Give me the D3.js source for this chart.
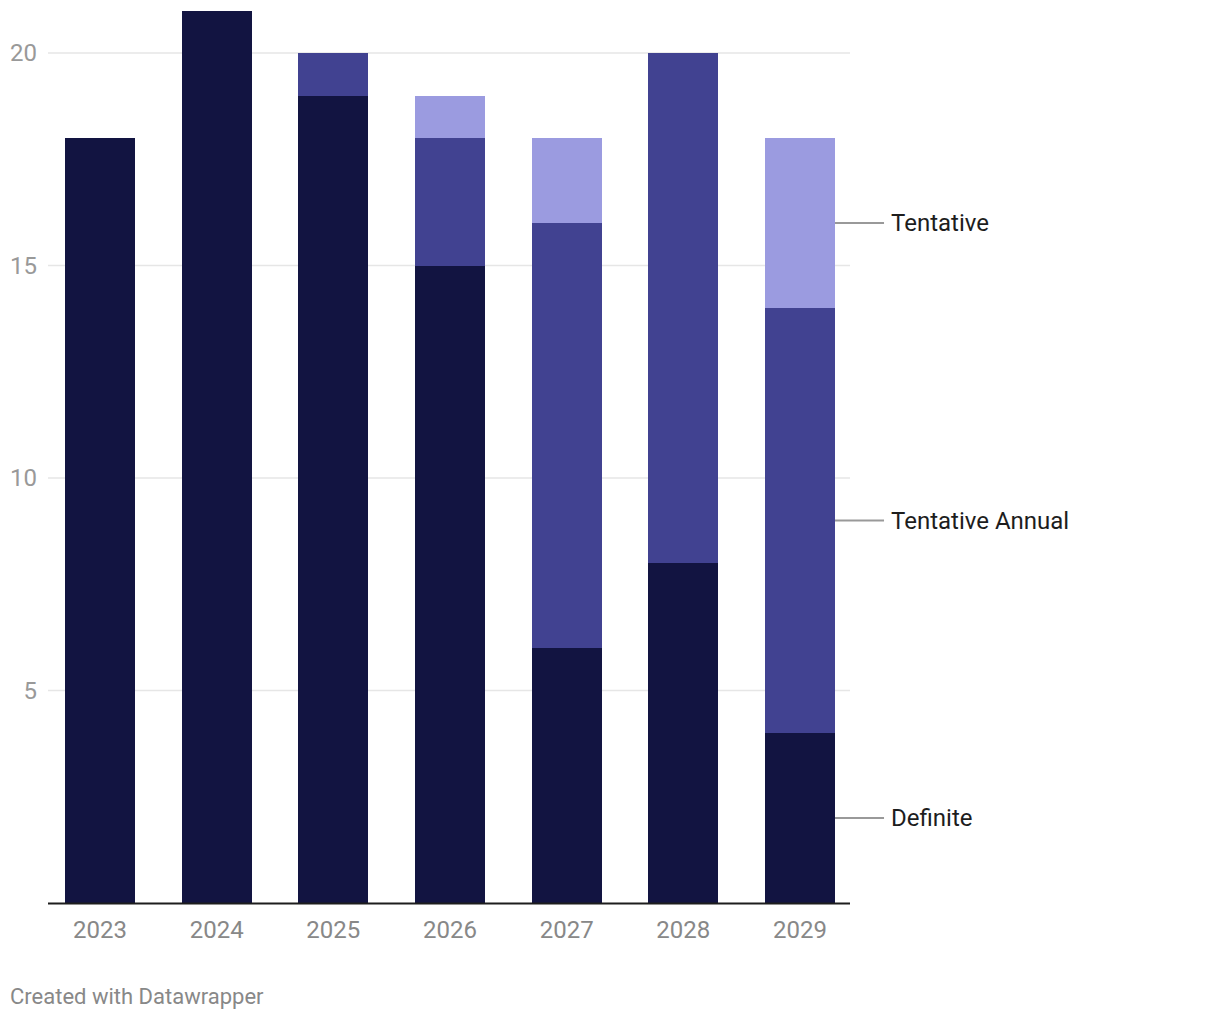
<!DOCTYPE html>
<html><head><meta charset="utf-8">
<script src="https://cdn.jsdelivr.net/npm/d3@7"></script>
<style>body{margin:0;background:#fff;font-family:Roboto,sans-serif}</style>
</head><body><svg id="c" width="1220" height="1020"></svg>
<script>
const years = ["2023","2024","2025","2026","2027","2028","2029"];
const definite = [18,21,19,15,6,8,4];
const tentativeAnnual = [0,0,1,3,10,12,10];
const tentative = [0,0,0,1,2,0,4];
const seriesNames = ["Definite","Tentative Annual","Tentative"];
const seriesColors = ["#121441","#414291","#9b9be0"];
const yTicks = [5,10,15,20];

const svg = d3.select("#c");
const x = d3.scaleBand().domain(years).range([49,851]).paddingInner(0.4).paddingOuter(0.137);
const y = d3.scaleLinear().domain([0,20]).range([903,53]);

const rows = years.map((yr,i)=>({year:yr, "Definite":definite[i], "Tentative Annual":tentativeAnnual[i], "Tentative":tentative[i]}));
const stack = d3.stack().keys(seriesNames)(rows);

svg.append("g").selectAll("line").data(yTicks).join("line")
  .attr("x1",48).attr("x2",850).attr("y1",d=>y(d)).attr("y2",d=>y(d))
  .attr("stroke","#e6e6e6").attr("stroke-width",1.5);
svg.append("g").selectAll("text").data(yTicks).join("text")
  .attr("x",37).attr("y",d=>y(d)).attr("dy","0.35em").attr("text-anchor","end")
  .attr("fill","#999").attr("font-size",24).text(d=>d);

stack.forEach((s,si)=>{
  svg.append("g").attr("fill",seriesColors[si]).attr("shape-rendering","crispEdges").selectAll("rect").data(s).join("rect")
    .attr("x",d=>x(d.data.year)).attr("width",x.bandwidth())
    .attr("y",d=>y(d[1])).attr("height",d=>y(d[0])-y(d[1]));
});

svg.append("line").attr("x1",48).attr("x2",850).attr("y1",903.5).attr("y2",903.5).attr("stroke","#1d1d1d").attr("stroke-width",2);
svg.append("g").selectAll("text").data(years).join("text")
  .attr("x",d=>x(d)+x.bandwidth()/2).attr("y",938).attr("text-anchor","middle")
  .attr("fill","#888").attr("font-size",24).text(d=>d);

// direct labels at last bar
const last = years.length-1;
const lx = x(years[last])+x.bandwidth();
stack.forEach((s,si)=>{
  const d = s[last];
  const ym = y((d[0]+d[1])/2);
  svg.append("line").attr("x1",lx).attr("x2",lx+49).attr("y1",ym).attr("y2",ym).attr("stroke","#999").attr("stroke-width",2);
  svg.append("text").attr("x",lx+56).attr("y",ym).attr("dy","0.35em").attr("fill","#1d1d1d").attr("font-size",24).text(seriesNames[si]);
});

svg.append("text").attr("x",10).attr("y",1004).attr("fill","#888").attr("font-size",22).text("Created with Datawrapper");
</script></body></html>
